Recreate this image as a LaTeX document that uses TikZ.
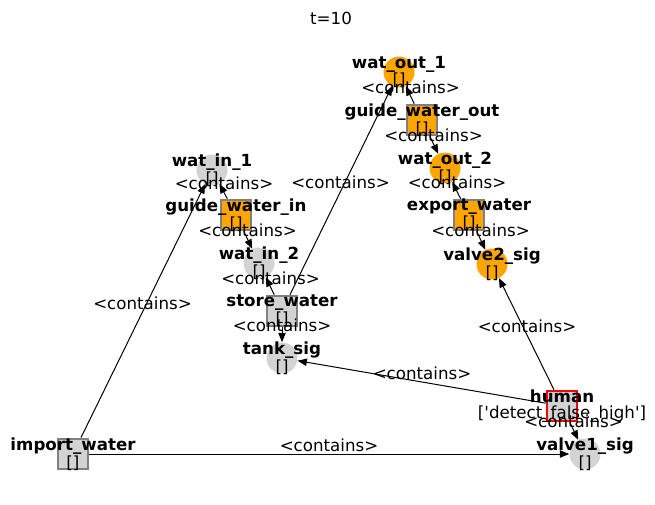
\documentclass[tikz,border=0pt]{standalone}
\usepackage{fontspec}
\setmainfont{DejaVu Sans}
\usetikzlibrary{arrows.meta,calc}
\definecolor{orng}{HTML}{FFA500}
\definecolor{lgray}{HTML}{D3D3D3}
\definecolor{bgray}{HTML}{808080}
\begin{document}
\begin{tikzpicture}[x=0.75pt,y=-0.75pt,
  every node/.style={font=\fontsize{12.5}{12}\selectfont},
  circ/.style={circle,minimum size=23.25pt,inner sep=0pt},
  sq/.style={rectangle,minimum size=22.5pt,inner sep=0pt,draw=bgray,line width=2pt},
  orc/.style={circ,fill=orng},
  grc/.style={circ,fill=lgray},
  ors/.style={sq,fill=orng},
  grs/.style={sq,fill=lgray},
  hus/.style={sq,fill=lgray,draw=red},
  arr/.style={line width=0.75pt,-{Triangle[length=7pt,width=5.5pt]}},
  nlab/.style={align=center,inner sep=0pt},
  elab/.style={inner sep=0pt}
]
\useasboundingbox (0,0) rectangle (655,504);
% nodes
\node[orc] (wo1) at (399,72) {};
\node[ors] (gwo) at (422,120) {};
\node[orc] (wo2) at (445,168) {};
\node[ors] (ew) at (469,215) {};
\node[orc] (v2) at (492,264) {};
\node[grc] (wi1) at (212,170) {};
\node[ors] (gwi) at (236,215) {};
\node[grc] (wi2) at (259,263) {};
\node[grs] (sw) at (282,311) {};
\node[grc] (ts) at (282,358) {};
\node[hus] (hu) at (562,406) {};
\node[grc] (v1) at (585,454) {};
\node[grs] (iw) at (73,454) {};
% edges
\draw[arr] (gwo) -- (wo1);
\draw[arr] (gwo) -- (wo2);
\draw[arr] (ew) -- (wo2);
\draw[arr] (ew) -- (v2);
\draw[arr] (gwi) -- (wi1);
\draw[arr] (gwi) -- (wi2);
\draw[arr] (sw) -- (wi2);
\draw[arr] (sw) -- (ts);
\draw[arr] (sw) -- (wo1);
\draw[arr] (iw) -- (wi1);
\draw[arr] (iw) -- (v1);
\draw[arr] (hu) -- (v1);
\draw[arr] (hu) -- (v2);
\draw[arr] (hu) -- (ts);
% edge labels
\newcommand{\ctn}{\textless{}contains\textgreater{}}
\node[elab] (e1) at ($(gwo)!0.5!(wo1)+(0,-9)$) {\ctn};
\node[elab] (e2) at ($(gwo)!0.5!(wo2)+(0,-9)$) {\ctn};
\node[elab] (e3) at ($(ew)!0.5!(wo2)+(0,-9)$) {\ctn};
\node[elab] (e4) at ($(ew)!0.5!(v2)+(0,-9)$) {\ctn};
\node[elab] (e5) at ($(gwi)!0.5!(wi1)+(0,-9)$) {\ctn};
\node[elab] (e6) at ($(gwi)!0.5!(wi2)+(0,-9)$) {\ctn};
\node[elab] (e7) at ($(sw)!0.5!(wi2)+(0,-9)$) {\ctn};
\node[elab] (e8) at ($(sw)!0.5!(ts)+(0,-9)$) {\ctn};
\node[elab] (e9) at ($(sw)!0.5!(wo1)+(0,-9)$) {\ctn};
\node[elab] (e10) at ($(iw)!0.5!(wi1)+(0,-9)$) {\ctn};
\node[elab] (e11) at ($(iw)!0.5!(v1)+(0,-9)$) {\ctn};
\node[elab] (e12) at ($(hu)!0.5!(v1)+(0,-9)$) {\ctn};
\node[elab] (e13) at ($(hu)!0.5!(v2)+(0,-9)$) {\ctn};
\node[elab] (e14) at ($(hu)!0.5!(ts)+(0,-9)$) {\ctn};
% node labels
\node[nlab] (lwo1) at (wo1) {\textbf{wat\_out\_1}\\{[]}};
\node[nlab] (lgwo) at (gwo) {\textbf{guide\_water\_out}\\{[]}};
\node[nlab] (lwo2) at (wo2) {\textbf{wat\_out\_2}\\{[]}};
\node[nlab] (lew) at (ew) {\textbf{export\_water}\\{[]}};
\node[nlab] (lv2) at (v2) {\textbf{valve2\_sig}\\{[]}};
\node[nlab] (lwi1) at (wi1) {\textbf{wat\_in\_1}\\{[]}};
\node[nlab] (lgwi) at (gwi) {\textbf{guide\_water\_in}\\{[]}};
\node[nlab] (lwi2) at (wi2) {\textbf{wat\_in\_2}\\{[]}};
\node[nlab] (lsw) at (sw) {\textbf{store\_water}\\{[]}};
\node[nlab] (lts) at (ts) {\textbf{tank\_sig}\\{[]}};
\node[nlab] (lhu) at (hu) {\textbf{human}\\{[\textquotesingle detect\_false\_high\textquotesingle]}};
\node[nlab] (lv1) at (v1) {\textbf{valve1\_sig}\\{[]}};
\node[nlab] (liw) at (iw) {\textbf{import\_water}\\{[]}};
% title
\node (title) at (331,18) {t=10};
\end{tikzpicture}
\end{document}
